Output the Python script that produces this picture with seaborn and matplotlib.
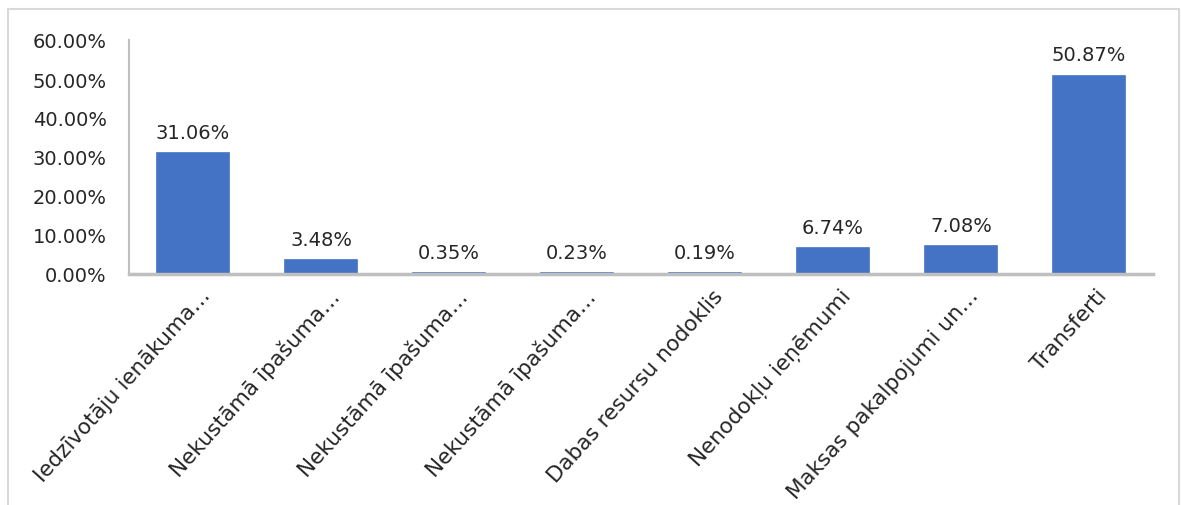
import matplotlib
matplotlib.use("Agg")
import matplotlib.pyplot as plt
import matplotlib.transforms as mtransforms
import seaborn as sns
import pandas as pd
from matplotlib.patches import Rectangle

categories = [
    "Iedzīvotāju ienākuma…",
    "Nekustāmā īpašuma…",
    "Nekustāmā īpašuma…",
    "Nekustāmā īpašuma…",
    "Dabas resursu nodoklis",
    "Nenodokļu ieņēmumi",
    "Maksas pakalpojumi un…",
    "Transferti",
]
shares = [31.06, 3.48, 0.35, 0.23, 0.19, 6.74, 7.08, 50.87]
yticks = [0, 10, 20, 30, 40, 50, 60]

sns.set_style("white")
plt.rcParams["font.family"] = ["DejaVu Sans"]

df = pd.DataFrame({"pos": range(len(categories)), "share": shares})

fig = plt.figure(figsize=(11.81, 5.06), dpi=100)
ax = fig.add_axes([129 / 1181, 1 - 275 / 506, 1024 / 1181, 234 / 506])

sns.barplot(data=df, x="pos", y="share", color="#4472C4", saturation=1,
            width=0.57, edgecolor="#4472C4", linewidth=1.2, ax=ax)

ax.set_ylim(0, 60)
ax.set_xlim(-0.5, len(categories) - 0.5)
ax.set_yticks(yticks)
ax.set_yticklabels([f"{v:.2f}%" for v in yticks], fontsize=14, color="#262626")
ax.set_xticks(range(len(categories)))
ax.set_xticklabels(categories, rotation=48, ha="right", rotation_mode="anchor",
                   fontsize=15.5, color="#262626")
ax.tick_params(axis="both", length=0)
ax.tick_params(axis="y", pad=16)
ax.tick_params(axis="x", pad=8)
ax.set_xlabel("")
ax.set_ylabel("")

# nudge the rotated labels a little to the right, like the original
shift = mtransforms.ScaledTranslation(7 / 100, 0, fig.dpi_scale_trans)
for lbl in ax.get_xticklabels():
    lbl.set_transform(lbl.get_transform() + shift)

for s in ["top", "right"]:
    ax.spines[s].set_visible(False)
ax.spines["left"].set_color("#bfbfbf")
ax.spines["left"].set_linewidth(1.5)
ax.spines["bottom"].set_color("#bfbfbf")
ax.spines["bottom"].set_linewidth(2.5)

for i, v in enumerate(shares):
    ax.annotate(f"{v:.2f}%", (i, v), xytext=(0, 8), textcoords="offset points",
                ha="center", va="bottom", fontsize=14, color="#262626")

# outer chart frame
fig.patches.append(Rectangle((8 / 1181, -0.1), 1171 / 1181, 1.1 - 10 / 506,
                             transform=fig.transFigure, fill=False,
                             edgecolor="#d9d9d9", linewidth=1.5))

fig.savefig("out.png", dpi=100)
